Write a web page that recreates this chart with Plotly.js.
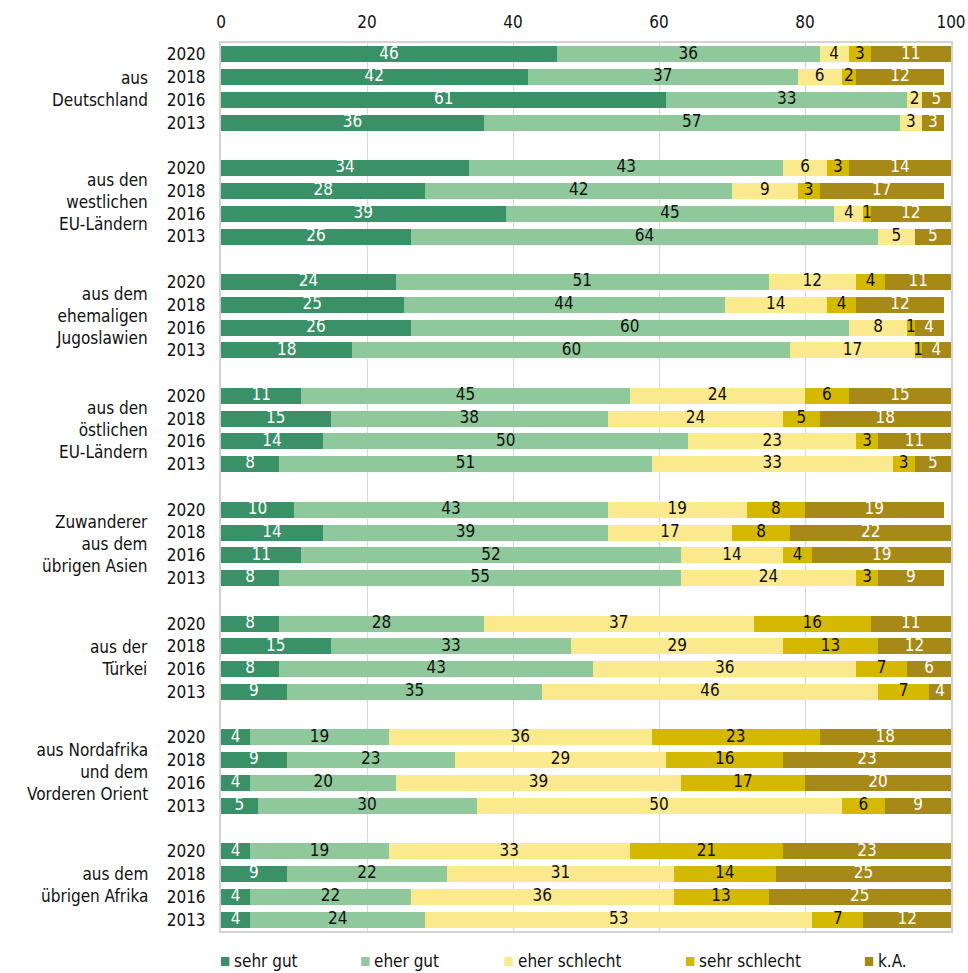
<!DOCTYPE html>
<html>
<head>
<meta charset="utf-8">
<script src="https://cdn.plot.ly/plotly-3.0.1.min.js"></script>
<style>
  html, body { margin: 0; padding: 0; background: #fff; }
  #chart { width: 968px; height: 973px; }
</style>
</head>
<body>
<div id="chart"></div>
<script>
// Herkunftsgruppen (Beschriftung links, Zeilen durch <br> getrennt)
const groups = [
  "aus<br>Deutschland",
  "aus den<br>westlichen<br>EU-Ländern",
  "aus dem<br>ehemaligen<br>Jugoslawien",
  "aus den<br>östlichen<br>EU-Ländern",
  "Zuwanderer<br>aus dem<br>übrigen Asien",
  "aus der<br>Türkei",
  "aus Nordafrika<br>und dem<br>Vorderen Orient",
  "aus dem<br>übrigen Afrika"
];
const years = ["2020", "2018", "2016", "2013"];

const seriesNames = ["sehr gut", "eher gut", "eher schlecht", "sehr schlecht", "k.A."];

// Werte je Gruppe, Reihenfolge der Jahre wie in `years`
const sehrGut = [
  [46, 42, 61, 36], [34, 28, 39, 26], [24, 25, 26, 18], [11, 15, 14, 8],
  [10, 14, 11, 8], [8, 15, 8, 9], [4, 9, 4, 5], [4, 9, 4, 4]
];
const eherGut = [
  [36, 37, 33, 57], [43, 42, 45, 64], [51, 44, 60, 60], [45, 38, 50, 51],
  [43, 39, 52, 55], [28, 33, 43, 35], [19, 23, 20, 30], [19, 22, 22, 24]
];
const eherSchlecht = [
  [4, 6, 2, 3], [6, 9, 4, 5], [12, 14, 8, 17], [24, 24, 23, 33],
  [19, 17, 14, 24], [37, 29, 36, 46], [36, 29, 39, 50], [33, 31, 36, 53]
];
const sehrSchlecht = [
  [3, 2, 0, 0], [3, 3, 1, 0], [4, 4, 1, 1], [6, 5, 3, 3],
  [8, 8, 4, 3], [16, 13, 7, 7], [23, 16, 17, 6], [21, 14, 13, 7]
];
const keineAngabe = [
  [11, 12, 5, 3], [14, 17, 12, 5], [11, 12, 4, 4], [15, 18, 11, 5],
  [19, 22, 19, 9], [11, 12, 6, 4], [18, 23, 20, 9], [23, 25, 25, 12]
];

const xTicks = [0, 20, 40, 60, 80, 100];

const seriesValues = [sehrGut, eherGut, eherSchlecht, sehrSchlecht, keineAngabe];
const colors = ["#3a9168", "#8fc89a", "#fbe98d", "#d5b800", "#a68916"];
const textColors = ["#ffffff", "#111111", "#111111", "#111111", "#ffffff"];

const FONT = "'Liberation Sans Narrow', 'DejaVu Sans Condensed', 'Roboto Condensed', 'Noto Sans', sans-serif";
const FS = 17;
const X_MAX = 100;

// Zeilenpositionen: je Gruppe 4 Balken, danach eine Leerzeile
const slot = [];
const yLabels = [];
groups.forEach((g, gi) => {
  years.forEach((yr, yi) => {
    slot.push(gi * 5 + yi);
    yLabels.push(yr);
  });
});
const nSlots = groups.length * 5 - 1;

// flache Wertelisten je Serie, Zeilen in Reihenfolge von `slot`
const flat = seriesValues.map(s => s.flat());

// gestapelte Balken
const barTraces = seriesNames.map((name, si) => ({
  type: "bar",
  orientation: "h",
  name: name,
  x: flat[si],
  y: slot,
  width: 0.7,
  marker: { color: colors[si], line: { width: 0 } },
  hoverinfo: "skip",
  showlegend: false
}));

// Wertbeschriftungen mittig im sichtbaren Teil jedes Segments
const labelTraces = seriesNames.map((name, si) => {
  const xs = [], ys = [], ts = [];
  slot.forEach((s, i) => {
    const v = flat[si][i];
    if (!(v > 0)) return;
    let start = 0;
    for (let k = 0; k < si; k++) start += flat[k][i];
    const end = Math.min(start + v, X_MAX);
    xs.push((start + end) / 2);
    ys.push(s);
    ts.push(String(v));
  });
  return {
    type: "scatter",
    mode: "text",
    x: xs, y: ys, text: ts,
    textposition: "middle center",
    textfont: { family: FONT, size: FS, color: textColors[si] },
    cliponaxis: false,
    hoverinfo: "skip",
    showlegend: false
  };
});

// Gruppenbeschriftungen links
const annotations = groups.map((g, gi) => ({
  xref: "paper", yref: "y",
  x: -0.097, y: gi * 5 + 1.5,
  xanchor: "right", yanchor: "middle",
  text: g, align: "right", showarrow: false,
  font: { family: FONT, size: FS, color: "#111" }
}));

// Legende unter dem Diagramm: Farbfeld + Text
const legendSwatchX = [0, 0.192, 0.388, 0.637, 0.882];
const legendTextGap = 0.0155;
const shapes = [];
seriesNames.forEach((n, si) => {
  shapes.push({
    type: "rect", xref: "paper", yref: "paper",
    x0: legendSwatchX[si], x1: legendSwatchX[si] + 0.0115,
    y0: -0.0293, y1: -0.0394,
    line: { width: 0 }, fillcolor: colors[si]
  });
  annotations.push({
    xref: "paper", yref: "paper",
    x: legendSwatchX[si] + legendTextGap, y: -0.0343,
    xanchor: "left", yanchor: "middle",
    text: n, showarrow: false,
    font: { family: FONT, size: FS, color: "#111" }
  });
});

const layout = {
  width: 968, height: 973,
  margin: { l: 221, r: 17, t: 43, b: 42 },
  paper_bgcolor: "#fff",
  plot_bgcolor: "#fff",
  barmode: "stack",
  font: { family: FONT, size: FS, color: "#111" },
  xaxis: {
    side: "top",
    range: [0, X_MAX],
    tickvals: xTicks,
    ticktext: xTicks.map(String),
    showgrid: true,
    gridcolor: "#d9d9d9",
    gridwidth: 1,
    zeroline: false,
    showline: true,
    mirror: true,
    linecolor: "#d3d3d3",
    linewidth: 2,
    ticks: "",
    ticklabelstandoff: 6,
    tickfont: { family: FONT, size: FS, color: "#111" },
    fixedrange: true
  },
  yaxis: {
    range: [nSlots - 0.5, -0.5],
    tickvals: slot,
    ticktext: yLabels,
    showgrid: false,
    zeroline: false,
    showline: true,
    mirror: true,
    linecolor: "#d3d3d3",
    linewidth: 2,
    ticks: "",
    ticklabelstandoff: 10,
    tickfont: { family: FONT, size: FS, color: "#111" },
    fixedrange: true
  },
  annotations: annotations,
  shapes: shapes,
  showlegend: false
};

Plotly.newPlot("chart", barTraces.concat(labelTraces), layout, { displayModeBar: false, staticPlot: true });
</script>
</body>
</html>
